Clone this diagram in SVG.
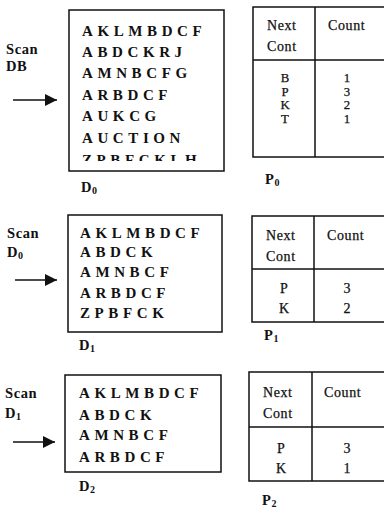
<svg xmlns="http://www.w3.org/2000/svg" width="384" height="510" viewBox="0 0 384 510">
  <defs>
    <style>
      .box { fill: #fff; stroke: #111; stroke-width: 1.5; }
      .rule { stroke: #111; stroke-width: 1.5; fill: none; }
      .seq { font-family: "Liberation Serif", serif; font-size: 15px; font-weight: bold; letter-spacing: 4.6px; fill: #111; }
      .lbl { font-family: "Liberation Serif", serif; font-size: 14.5px; font-weight: bold; letter-spacing: 0.6px; fill: #111; }
      .tbl { font-family: "Liberation Serif", serif; font-size: 14px; letter-spacing: 0.6px; fill: #111; stroke: #111; stroke-width: 0.25; }
      .row { font-family: "Liberation Serif", serif; font-size: 12.8px; fill: #111; stroke: #111; stroke-width: 0.25; text-anchor: middle; }
      .row-lg { font-size: 14px; }
      .sub { font-size: 10px; }
      .arrow-line { stroke: #111; stroke-width: 1.6; }
    </style>
    <marker id="head" viewBox="0 0 10 10" refX="10" refY="5" markerWidth="14" markerHeight="12" markerUnits="userSpaceOnUse" orient="auto">
      <path d="M0,0 L10,5 L0,10 Z" fill="#111"/>
    </marker>
    <clipPath id="clipD0">
      <rect x="69" y="10" width="155" height="151"/>
    </clipPath>
  </defs>

  <rect width="384" height="510" fill="#fff"/>

  <!-- scan arrows -->
  <g id="connectors">
    <line class="arrow-line" x1="13" y1="100" x2="57" y2="100" marker-end="url(#head)"/>
    <line class="arrow-line" x1="15" y1="280" x2="57" y2="280" marker-end="url(#head)"/>
    <line class="arrow-line" x1="13" y1="442" x2="55" y2="442" marker-end="url(#head)"/>
  </g>

  <g id="scan-db">
    <text class="lbl" x="6" y="54">Scan</text>
    <text class="lbl" x="6" y="71">DB</text>
  </g>
  <g id="scan-d0">
    <text class="lbl" x="7" y="238">Scan</text>
    <text class="lbl" x="7" y="257">D<tspan class="sub" dy="2">0</tspan></text>
  </g>
  <g id="scan-d1">
    <text class="lbl" x="5" y="398">Scan</text>
    <text class="lbl" x="5" y="418">D<tspan class="sub" dy="2">1</tspan></text>
  </g>

  <!-- database D0 -->
  <g id="D0">
    <rect class="box" x="69" y="10" width="155" height="161"/>
    <text class="seq" x="82" y="36">AKLMBDCF</text>
    <text class="seq" x="82" y="57">ABDCKRJ</text>
    <text class="seq" x="82" y="78">AMNBCFG</text>
    <text class="seq" x="82" y="100">ARBDCF</text>
    <text class="seq" x="82" y="121">AUKCG</text>
    <text class="seq" x="82" y="143">AUCTION</text>
    <g clip-path="url(#clipD0)">
      <text class="seq" x="82" y="165">ZPBFCKLH</text>
    </g>
    <text class="lbl" x="81" y="192">D<tspan class="sub" dy="2">0</tspan></text>
  </g>

  <!-- database D1 -->
  <g id="D1">
    <rect class="box" x="68" y="215" width="154" height="117"/>
    <text class="seq" x="80" y="238">AKLMBDCF</text>
    <text class="seq" x="80" y="257">ABDCK</text>
    <text class="seq" x="80" y="277">AMNBCF</text>
    <text class="seq" x="80" y="298">ARBDCF</text>
    <text class="seq" x="80" y="318">ZPBFCK</text>
    <text class="lbl" x="79" y="350">D<tspan class="sub" dy="2">1</tspan></text>
  </g>

  <!-- database D2 -->
  <g id="D2">
    <rect class="box" x="65" y="375" width="156" height="97"/>
    <text class="seq" x="79" y="398">AKLMBDCF</text>
    <text class="seq" x="79" y="420">ABDCK</text>
    <text class="seq" x="79" y="440">AMNBCF</text>
    <text class="seq" x="79" y="462">ARBDCF</text>
    <text class="lbl" x="79" y="491">D<tspan class="sub" dy="2">2</tspan></text>
  </g>

  <!-- count table P0 -->
  <g id="P0">
    <rect class="box" x="253" y="7" width="150" height="150"/>
    <line class="rule" x1="253" y1="60" x2="403" y2="60"/>
    <line class="rule" x1="315" y1="7" x2="315" y2="157"/>
    <text class="tbl" x="267" y="30">Next</text>
    <text class="tbl" x="267" y="51">Cont</text>
    <text class="tbl" x="328" y="30">Count</text>
    <text class="row" x="285" y="82">B</text>
    <text class="row" x="285" y="95.5">P</text>
    <text class="row" x="285" y="109">K</text>
    <text class="row" x="285" y="122.5">T</text>
    <text class="row" x="347" y="82">1</text>
    <text class="row" x="347" y="95.5">3</text>
    <text class="row" x="347" y="109">2</text>
    <text class="row" x="347" y="122.5">1</text>
    <text class="lbl" x="265" y="184">P<tspan class="sub" dy="2">0</tspan></text>
  </g>

  <!-- count table P1 -->
  <g id="P1">
    <rect class="box" x="252" y="216" width="150" height="106"/>
    <line class="rule" x1="252" y1="269" x2="402" y2="269"/>
    <line class="rule" x1="314" y1="216" x2="314" y2="322"/>
    <text class="tbl" x="266" y="240">Next</text>
    <text class="tbl" x="266" y="261">Cont</text>
    <text class="tbl" x="327" y="240">Count</text>
    <text class="row row-lg" x="284" y="293">P</text>
    <text class="row row-lg" x="284" y="313">K</text>
    <text class="row row-lg" x="347" y="293">3</text>
    <text class="row row-lg" x="347" y="313">2</text>
    <text class="lbl" x="264" y="340">P<tspan class="sub" dy="2">1</tspan></text>
  </g>

  <!-- count table P2 -->
  <g id="P2">
    <rect class="box" x="249" y="372" width="150" height="109"/>
    <line class="rule" x1="249" y1="427" x2="399" y2="427"/>
    <line class="rule" x1="312" y1="372" x2="312" y2="481"/>
    <text class="tbl" x="263" y="397">Next</text>
    <text class="tbl" x="263" y="418">Cont</text>
    <text class="tbl" x="324" y="397">Count</text>
    <text class="row row-lg" x="281" y="453">P</text>
    <text class="row row-lg" x="281" y="473">K</text>
    <text class="row row-lg" x="347" y="453">3</text>
    <text class="row row-lg" x="347" y="473">1</text>
    <text class="lbl" x="262" y="505">P<tspan class="sub" dy="2">2</tspan></text>
  </g>
</svg>
